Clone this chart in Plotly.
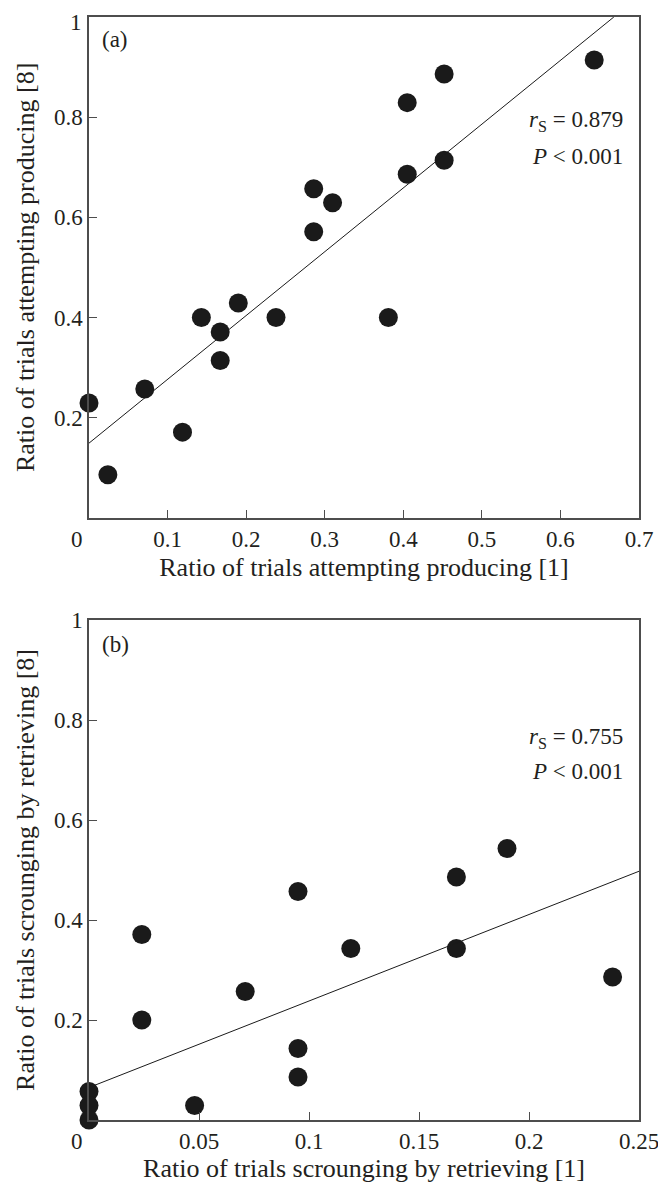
import plotly.graph_objects as go
from plotly.subplots import make_subplots

# Panel (a): ratio of trials attempting producing
a_x = [0.0, 0.024, 0.071, 0.119, 0.143, 0.167, 0.167, 0.190, 0.238, 0.381,
       0.286, 0.286, 0.310, 0.405, 0.405, 0.452, 0.452, 0.643]
a_y = [0.229, 0.086, 0.257, 0.171, 0.400, 0.371, 0.314, 0.429, 0.400, 0.400,
       0.657, 0.571, 0.629, 0.829, 0.686, 0.886, 0.714, 0.914]
a_fit = [0.149, 1.274]      # intercept, slope
a_stats = ["0.879", "0.001"]

# Panel (b): ratio of trials scrounging by retrieving
b_x = [0.0, 0.0, 0.0, 0.048, 0.024, 0.024, 0.071, 0.095, 0.095, 0.095,
       0.119, 0.167, 0.167, 0.190, 0.238]
b_y = [0.057, 0.029, 0.0, 0.029, 0.200, 0.371, 0.257, 0.457, 0.143, 0.086,
       0.343, 0.343, 0.486, 0.543, 0.286]
b_fit = [0.065, 1.73]
b_stats = ["0.755", "0.001"]

a_xticks = [0.1, 0.2, 0.3, 0.4, 0.5, 0.6, 0.7]
b_xticks = [0.05, 0.1, 0.15, 0.2, 0.25]
yticks = [0.2, 0.4, 0.6, 0.8, 1]

FONT = "Liberation Serif"
TXT = "#231f20"
AX = "#4d4d4d"
TICK_SIZE = 23
TITLE_SIZE = 26
ANN_SIZE = 23

fig = make_subplots(rows=2, cols=1, vertical_spacing=0.0)

def add_panel(row, xs, ys, fit, xmax):
    fig.add_trace(go.Scatter(x=xs, y=ys, mode="markers", cliponaxis=False,
                             marker=dict(size=19, color="#1a1a1a", line=dict(width=0)),
                             showlegend=False), row=row, col=1)
    x_end = min(xmax, (1 - fit[0]) / fit[1])
    lx = [0, x_end]
    ly = [fit[0] + fit[1] * v for v in lx]
    fig.add_trace(go.Scatter(x=lx, y=ly, mode="lines",
                             line=dict(color="#1a1a1a", width=1),
                             showlegend=False), row=row, col=1)

add_panel(1, a_x, a_y, a_fit, 0.7)
add_panel(2, b_x, b_y, b_fit, 0.25)

axis_common = dict(showline=True, mirror=True, linecolor=AX, linewidth=1.5,
                   ticks="inside", ticklen=8, tickwidth=1.2, tickcolor=AX,
                   showgrid=False, zeroline=False, automargin=False,
                   ticklabeloverflow="allow",
                   tickfont=dict(family=FONT, size=TICK_SIZE, color=TXT),
                   title_font=dict(family=FONT, size=TITLE_SIZE, color=TXT))

fig.update_xaxes(axis_common)
fig.update_yaxes(axis_common)

# top label of panel (a) is drawn as an annotation so it stays inside the page
a_ytext = [str(v) if v != 1 else "" for v in yticks]
b_ytext = [str(v) for v in yticks]

# figure is 658x1175; the page adds an 8 px body margin on top/left
fig.update_xaxes(range=[0, 0.7], tickvals=a_xticks, ticktext=[str(v) for v in a_xticks],
                 domain=[0, 1], title_text="Ratio of trials attempting producing [1]",
                 title_standoff=7, row=1, col=1)
fig.update_xaxes(range=[0, 0.25], tickvals=b_xticks, ticktext=[str(v) for v in b_xticks],
                 domain=[0, 1], title_text="Ratio of trials scrounging by retrieving [1]",
                 title_standoff=8, row=2, col=1)
fig.update_yaxes(range=[0, 1], tickvals=yticks, ticktext=a_ytext,
                 domain=[0.546, 1.0], title_text="Ratio of trials attempting producing [8]",
                 title_standoff=12, row=1, col=1)
fig.update_yaxes(range=[0, 1], tickvals=yticks, ticktext=b_ytext,
                 domain=[0.0, 0.4533], title_text="Ratio of trials scrounging by retrieving [8]",
                 title_standoff=12, row=2, col=1)

fig.add_annotation(x=0, y=yticks[-1], xref="x domain", yref="y", text=str(yticks[-1]),
                   showarrow=False, xanchor="right", yanchor="top", xshift=-5, yshift=9,
                   font=dict(family=FONT, size=TICK_SIZE, color=TXT))

def panel_text(xref, yref, label, label_y, stats, y1, y2):
    fig.add_annotation(x=0.02, y=label_y, xref=xref, yref=yref,
                       text=label, showarrow=False, xanchor="left", yanchor="middle",
                       font=dict(family=FONT, size=ANN_SIZE, color=TXT))
    fig.add_annotation(x=0.974, y=y1, xref=xref, yref=yref,
                       text="<i>r</i><sub>S</sub> = " + stats[0], showarrow=False,
                       xanchor="right", yanchor="middle",
                       font=dict(family=FONT, size=ANN_SIZE, color=TXT))
    fig.add_annotation(x=0.974, y=y2, xref=xref, yref=yref,
                       text="<i>P</i> &lt; " + stats[1], showarrow=False,
                       xanchor="right", yanchor="middle",
                       font=dict(family=FONT, size=ANN_SIZE, color=TXT))
    fig.add_annotation(x=0, y=0, xref=xref, yref=yref, text="0", showarrow=False,
                       xanchor="center", yanchor="top", xshift=-12, yshift=-7,
                       font=dict(family=FONT, size=TICK_SIZE, color=TXT))

panel_text("x domain", "y domain", "(a)", 0.956, a_stats, 0.792, 0.722)
panel_text("x2 domain", "y2 domain", "(b)", 0.952, b_stats, 0.765, 0.698)

fig.update_layout(width=658, height=1175,
                  margin=dict(l=81, r=27, t=9, b=63, autoexpand=False),
                  paper_bgcolor="white", plot_bgcolor="white",
                  font=dict(family=FONT, color=TXT))

fig.write_html("out.html")
